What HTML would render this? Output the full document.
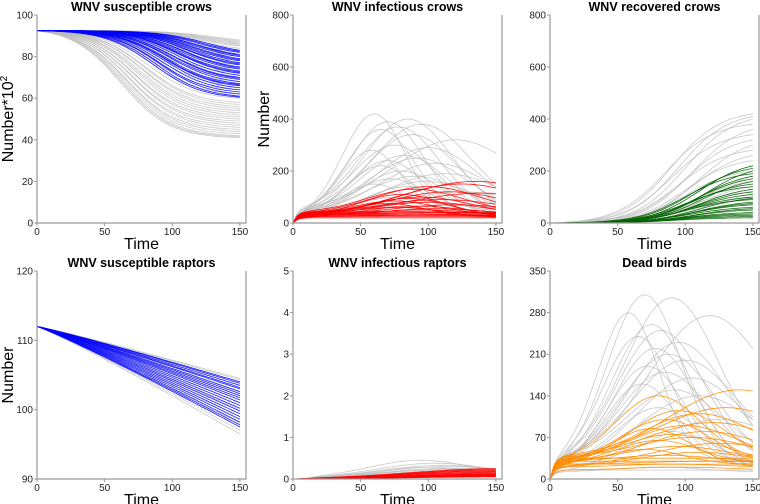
<!DOCTYPE html>
<html><head><meta charset="utf-8">
<style>
html,body{margin:0;padding:0;background:#fff;}
svg{display:block;font-family:"Liberation Sans",sans-serif;}
</style></head>
<body>
<svg id="chart" width="760" height="504" viewBox="0 0 760 504" xmlns="http://www.w3.org/2000/svg"></svg>
<script>
// ---------- data (per-curve parameters) ----------
const p1GrayEnd = [88,87.5,87,86.5,86,85.5,85,84,83,82,81,80,79,78,76,74,72,70,68,66,64,62,60,58,57,56,55,54,53,52,51,50,49,48,47,46,45,44,43,42,41.5,41];
const p1GrayMid = [130,128,126,125,124,122,120,118,116,112,110,108,105,102,100,98,95,92,90,88,85,84,82,80,80,78,78,76,75,74,72,72,70,70,68,68,66,66,65,64,63,62];
const p1BlueEnd = [83,82.5,82,81,80.5,80,79,78.5,78,77,76.5,76,75,74.5,74,73,72.5,72,71,70,69.5,69,68,67,66.5,66,65,64,63,62,61,60.5];
const p1BlueMid = [125,122,120,118,118,116,115,114,112,112,110,110,108,108,106,105,104,104,102,100,100,98,98,96,95,95,94,92,90,90,88,86];
const p4GrayEnd = [104.5,104.3,104,103.5,103,102.5,102,101,100,99,98,97.5,97,96.5];
const p4BlueEnd = [104,103.8,103.5,103.2,103,102.6,102.3,102,101.7,101.4,101,100.6,100.2,99.8,99.4,99,98.6,98.2,97.8,97.5];
const p2GrayBase = [20,25,30,35,40,30,25,45,50,20,30,35,40,25,30,20,15,30,40,35,25,30,20,25,35,30,40,45];
const p2GrayPeak = [420,400,390,380,370,360,340,320,300,290,280,260,250,240,230,220,200,190,180,170,160,150,140,120,100,80,60,40];
const p2GrayTime = [60,85,70,95,78,65,88,120,75,100,58,82,92,70,105,65,80,112,90,72,98,60,85,125,78,95,70,88];
const p2RedBase = [25,30,35,40,30,25,35,30,20,40,35,30,25,30,35,20,25,30,40,35,30,25,30,35,40,30,25,20];
const p2RedPeak = [150,160,140,130,120,110,115,100,95,90,85,80,75,70,65,60,55,50,45,40,35,30,28,25,20,15,10,5];
const p2RedTime = [125,135,100,90,115,80,140,95,85,110,75,100,70,120,90,80,105,95,70,110,85,100,90,120,80,95,100,110];
const p3GrayEnd = [420,410,400,380,360,340,320,300,280,260,240,220,200,180,160,140,120,100];
const p3GrayMid = [90,95,100,85,105,90,100,110,95,105,100,110,100,115,105,110,100,110];
const p3GreenEnd = [220,210,200,190,180,170,160,150,140,130,120,110,100,95,90,80,75,70,60,55,50,40,35,30,25,20];
const p3GreenMid = [110,105,115,100,110,108,112,105,100,110,108,106,104,110,100,108,106,104,102,106,104,100,98,96,94,92];
const p5GrayPeak = [0.45,0.38,0.33,0.3,0.28,0.26,0.24,0.22,0.2,0.18,0.16,0.14];
const p5GrayTime = [95,105,110,115,100,120,108,112,118,125,110,130];
const p5RedPeak = [0.25,0.23,0.21,0.19,0.17,0.15,0.13,0.12,0.11,0.1,0.09,0.08,0.07,0.06,0.05];
const p5RedTime = [150,150,150,148,150,150,148,150,150,150,150,150,150,150,150];
const p6GrayBase = [20,25,30,15,20,25,30,20,15,25,30,20,25,15,20,30,25,20,15,10,12,15];
const p6GrayPeak = [310,305,280,275,260,250,240,230,220,210,200,190,180,170,160,150,140,120,100,80,20,10];
const p6GrayTime = [70,90,58,118,75,82,65,95,78,88,100,72,85,105,68,92,110,80,125,90,80,90];
const p6OrBase = [25,30,35,20,30,25,35,30,20,25,30,35,25,20,30,25,20,30,35,25,20,15,25,30];
const p6OrPeak = [150,140,120,115,110,100,95,90,85,80,75,70,65,60,55,50,45,40,35,30,25,20,15,10];
const p6OrTime = [140,80,130,95,110,85,120,100,75,115,90,105,80,125,95,70,110,85,100,120,90,95,100,105];

const svg = document.getElementById('chart');
const NS = 'http://www.w3.org/2000/svg';
const panels = [
  {x:37, y:15, title:'WNV susceptible crows', ymin:0, ymax:100, ticks:[0,20,40,60,80,100], ylab:'sup'},
  {x:293,y:15, title:'WNV infectious crows', ymin:0, ymax:800, ticks:[0,200,400,600,800], ylab:'Number'},
  {x:550,y:15, title:'WNV recovered crows', ymin:0, ymax:800, ticks:[0,200,400,600,800], ylab:null},
  {x:37, y:271,title:'WNV susceptible raptors', ymin:90, ymax:120, ticks:[90,100,110,120], ylab:'Number'},
  {x:293,y:271,title:'WNV infectious raptors', ymin:0, ymax:5, ticks:[0,1,2,3,4,5], ylab:null},
  {x:550,y:271,title:'Dead birds', ymin:0, ymax:350, ticks:[0,70,140,210,280,350], ylab:null}
];
const W = 209, H = 208, XMAX = 154.5;
const times = []; for (let t=0;t<=150;t+=3) times.push(t);

function el(tag, attrs, parent){ const e=document.createElementNS(NS,tag); for(const k in attrs) e.setAttribute(k,attrs[k]); (parent||svg).appendChild(e); return e; }

function logistic(t, mid){ const w=18; const f=x=>1/(1+Math.exp(-(x-mid)/w)); return (f(t)-f(0))/(f(150)-f(0)); }
function sigCurve(y0, end, mid){ return times.map(t=>y0-(y0-end)*logistic(t,mid)); }
function linCurve(y0, end){ return times.map(t=>y0-(y0-end)*Math.pow(t/150,1.08)); }
function riseCurve(end, mid){ return times.map(t=>end*logistic(t,mid)); }
function bumpCurve(base, peak, tp){ return times.map(t=>{ const r = base*(1-Math.exp(-t/3)); const sd = tp*0.55; return r + Math.max(0,peak-base)*Math.exp(-Math.pow((t-tp)/sd,2)) * (1-Math.exp(-t/6)); }); }
function smallBump(peak, tp){ return times.map(t=> peak*Math.exp(-Math.pow((t-tp)/(tp*0.6),2)) * Math.min(1,t/20)); }

function drawPanel(i, p, series){
  const g = el('g', { });
  const sx = t => p.x + t/XMAX*W;
  const sy = v => p.y + H - (v-p.ymin)/(p.ymax-p.ymin)*H;
  const clip = el('clipPath',{id:'c'+i}, g);
  el('rect',{x:p.x,y:p.y,width:W,height:H},clip);
  const lg = el('g',{'clip-path':'url(#c'+i+')'}, g);
  
  
  series.forEach(s=>{
    s.curves.forEach(c=>{
      const d = c.map((v,k)=>(k?'L':'M')+sx(times[k]).toFixed(1)+','+sy(v).toFixed(1)).join('');
      const path = el('path',{d:d,fill:'none',stroke:s.color,'stroke-width':0.8,'stroke-opacity':s.op}, lg);
      
      
    });
  });
  const ax = el('path',{d:`M${p.x},${p.y}V${p.y+H}H${p.x+W}V${p.y}`,fill:'none',stroke:'#999','stroke-width':1.2}, g);
   
  p.ticks.forEach(v=>{
    el('line',{x1:p.x-3,x2:p.x,y1:sy(v),y2:sy(v),stroke:'#999'},g);
    const t=el('text',{x:p.x-4,y:sy(v)+3.5,'text-anchor':'end','font-size':10,fill:'#222'},g);
     
    t.textContent=v;
  });
  [0,50,100,150].forEach(v=>{
    el('line',{x1:sx(v),x2:sx(v),y1:p.y+H,y2:p.y+H+3,stroke:'#999'},g);
    const t=el('text',{x:sx(v),y:p.y+H+12,'text-anchor':'middle','font-size':10,fill:'#222'},g);
     
    t.textContent=v;
  });
  const tt=el('text',{x:p.x+W/2,y:p.y-4,'text-anchor':'middle','font-size':12.5,'font-weight':'bold',fill:'#000'},g);
   
  tt.textContent=p.title;
  const xt=el('text',{x:p.x+W/2,y:p.y+H+26,'text-anchor':'middle','font-size':16,fill:'#000'},g);
   
  xt.textContent='Time';
  if(p.ylab){
    const yt=el('text',{x:0,y:0,'text-anchor':'middle','font-size':16,fill:'#000',transform:`translate(${p.x-24},${p.y+H/2}) rotate(-90)`},g);
     
    if(p.ylab==='sup'){ yt.innerHTML='Number*10<tspan dy="-6" font-size="10">2</tspan>'; }
    else yt.textContent=p.ylab;
  }
}

const gray='#bdbdbd';
drawPanel(0,panels[0],[
  {name:'gray-sim',color:gray,op:0.8,curves:p1GrayEnd.map((e,k)=>sigCurve(92.5,e,p1GrayMid[k]))},
  {name:'blue-sim',color:'#0000ff',op:0.9,curves:p1BlueEnd.map((e,k)=>sigCurve(92.5,e,p1BlueMid[k]))}
]);
drawPanel(1,panels[1],[
  {name:'gray-sim',color:gray,op:0.8,curves:p2GrayPeak.map((v,k)=>bumpCurve(p2GrayBase[k],v,p2GrayTime[k]))},
  {name:'red-sim',color:'#ff0000',op:0.9,curves:p2RedPeak.map((v,k)=>bumpCurve(p2RedBase[k],v,p2RedTime[k]))}
]);
drawPanel(2,panels[2],[
  {name:'gray-sim',color:gray,op:0.8,curves:p3GrayEnd.map((e,k)=>riseCurve(e,p3GrayMid[k]))},
  {name:'green-sim',color:'#006400',op:0.9,curves:p3GreenEnd.map((e,k)=>riseCurve(e,p3GreenMid[k]))}
]);
drawPanel(3,panels[3],[
  {name:'gray-sim',color:gray,op:0.8,curves:p4GrayEnd.map(e=>linCurve(112,e))},
  {name:'blue-sim',color:'#0000ff',op:0.9,curves:p4BlueEnd.map(e=>linCurve(112,e))}
]);
drawPanel(4,panels[4],[
  {name:'gray-sim',color:gray,op:0.8,curves:p5GrayPeak.map((v,k)=>smallBump(v,p5GrayTime[k]))},
  {name:'red-sim',color:'#ff0000',op:0.9,curves:p5RedPeak.map((v,k)=>smallBump(v,p5RedTime[k]))}
]);
drawPanel(5,panels[5],[
  {name:'gray-sim',color:gray,op:0.8,curves:p6GrayPeak.map((v,k)=>bumpCurve(p6GrayBase[k],v,p6GrayTime[k]))},
  {name:'orange-sim',color:'#ff8c00',op:0.9,curves:p6OrPeak.map((v,k)=>bumpCurve(p6OrBase[k],v,p6OrTime[k]))}
]);
</script>
</body></html>
